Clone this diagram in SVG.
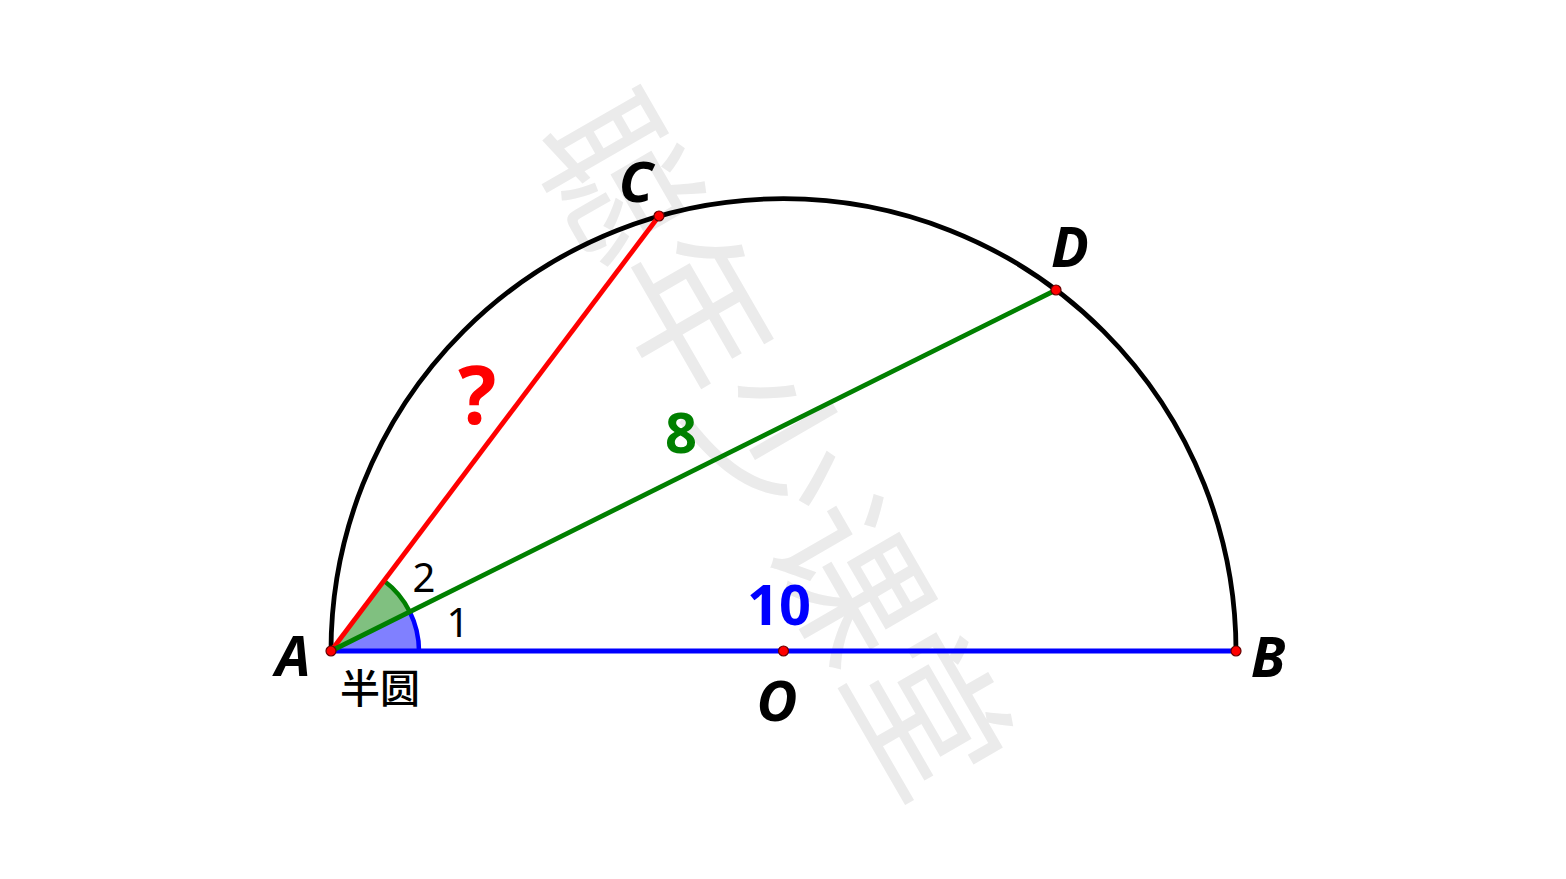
<svg xmlns="http://www.w3.org/2000/svg" width="1566" height="879" viewBox="0 0 1566 879">
<style>
.lbl{font-family:"Noto Sans","Open Sans","Liberation Sans",sans-serif;font-weight:bold;font-style:italic;font-size:56px;fill:#000;text-anchor:middle}
.num{font-family:"Noto Sans","Open Sans","Liberation Sans",sans-serif;font-weight:bold;font-size:56px;text-anchor:middle}
.small{font-family:"Noto Sans","Open Sans","Liberation Sans",sans-serif;font-size:40px;fill:#000;text-anchor:middle}
.pt{fill:#ff0000;stroke:#600;stroke-width:1.2}
</style>
<rect width="1566" height="879" fill="#fff"/>
<g id="watermark">
<text transform="translate(770,447) rotate(60)" y="54" text-anchor="middle" font-family="Noto Sans CJK SC, sans-serif" font-size="155" fill="#ebebeb">聪年少课堂</text>
</g>
<g id="angles">
<path d="M331,651 L419,651 A88,88 0 0 0 409.75,611.7 Z" fill="#8080ff"/>
<path d="M331,651 L409.75,611.7 A88,88 0 0 0 384,580.7 Z" fill="#80c080"/>
<path d="M419,651 A88,88 0 0 0 409.75,611.7" fill="none" stroke="#0000ff" stroke-width="4.5"/>
<path d="M409.75,611.7 A88,88 0 0 0 384,580.7" fill="none" stroke="#008000" stroke-width="4.5"/>
</g>
<g id="connectors" fill="none" stroke-width="4.8">
<path id="semicircle" d="M331,651 A452.5,452.5 0 0 1 1236,651" stroke="#000"/>
<line id="AB" x1="331" y1="651" x2="1236" y2="651" stroke="#0000ff"/>
<line id="AC" x1="331" y1="651" x2="659" y2="216" stroke="#ff0000"/>
<line id="AD" x1="331" y1="651" x2="1056" y2="290" stroke="#008000"/>
</g>
<g id="pointA"><circle class="pt" cx="331" cy="651" r="5"/><text class="lbl" x="293" y="676">A</text></g>
<g id="pointB"><circle class="pt" cx="1236" cy="651" r="5"/><text class="lbl" x="1268" y="677">B</text></g>
<g id="pointC"><circle class="pt" cx="659" cy="216" r="5"/><text class="lbl" x="636" y="202">C</text></g>
<g id="pointD"><circle class="pt" cx="1056" cy="290" r="5"/><text class="lbl" x="1070" y="267">D</text></g>
<g id="pointO"><circle class="pt" cx="783.5" cy="651" r="5"/><text class="lbl" x="777" y="721">O</text></g>
<g id="labels">
<text class="num" x="477" y="424" fill="#ff0000" style="font-size:80px">?</text>
<text class="num" x="681" y="453" fill="#008000">8</text>
<text class="num" x="779" y="625" fill="#0000ff">10</text>
<text class="small" x="458" y="637">1</text>
<text class="small" x="424" y="592">2</text>
<text x="380" y="703" font-family="Noto Sans CJK SC, sans-serif" font-size="40" font-weight="500" text-anchor="middle" fill="#000">半圆</text>
</g>
</svg>
